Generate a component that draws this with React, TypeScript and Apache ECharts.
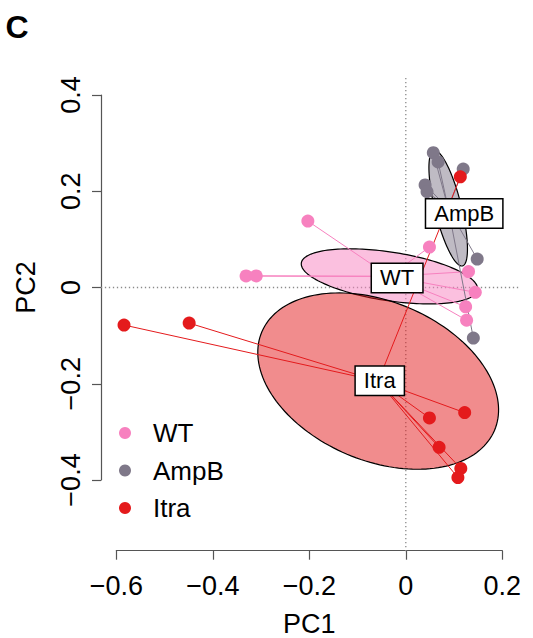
import React, { useEffect, useRef } from 'react';
import * as echarts from 'echarts';

// ---------- data ----------
const groupNames = ['WT', 'AmpB', 'Itra'];
const groupColors = ['#F781BF', '#7F7889', '#E41A1C'];

const wtPC1 = [-0.203, -0.331, -0.31, 0.049, 0.13, 0.144, 0.124, 0.126];
const wtPC2 = [0.138, 0.024, 0.024, 0.084, 0.033, -0.01, -0.04, -0.068];

const ampbPC1 = [0.057, 0.067, 0.119, 0.04, 0.044, 0.148, 0.14];
const ampbPC2 = [0.28, 0.261, 0.246, 0.213, 0.199, 0.059, -0.105];

const itraPC1 = [-0.584, -0.449, 0.049, 0.122, 0.069, 0.114, 0.108, 0.113];
const itraPC2 = [-0.078, -0.074, -0.271, -0.26, -0.332, -0.376, -0.395, 0.23];

// positions of the group labels (PC1, PC2)
const labelPC1 = [-0.018, 0.121, -0.054];
const labelPC2 = [0.02, 0.154, -0.194];

const xTicks = [-0.6, -0.4, -0.2, 0, 0.2];
const yTicks = [-0.4, -0.2, 0, 0.2, 0.4];

// extent of the plotting region (data units) for the dotted zero lines
const frameX = [-0.632, 0.233];
const frameY = [-0.548, 0.436];

const groupPC1 = [wtPC1, ampbPC1, itraPC1];
const groupPC2 = [wtPC2, ampbPC2, itraPC2];

// ---------- styles ----------
const FONT = '"Liberation Sans", Arimo, Arial, Helvetica, sans-serif';
const AXIS = '#555555';
const ELLIPSE_SCALE = 0.93;

function hexToRgba(hex: string, a: number) {
  const h = hex.replace('#', '');
  const r = parseInt(h.slice(0, 2), 16);
  const g = parseInt(h.slice(2, 4), 16);
  const b = parseInt(h.slice(4, 6), 16);
  return `rgba(${r},${g},${b},${a})`;
}

function groupStats(xs: number[], ys: number[]) {
  const n = xs.length;
  const mx = xs.reduce((s, v) => s + v, 0) / n;
  const my = ys.reduce((s, v) => s + v, 0) / n;
  let vxx = 0, vyy = 0, vxy = 0;
  for (let i = 0; i < n; i++) {
    vxx += (xs[i] - mx) ** 2;
    vyy += (ys[i] - my) ** 2;
    vxy += (xs[i] - mx) * (ys[i] - my);
  }
  return { mx, my, vxx: vxx / n, vyy: vyy / n, vxy: vxy / n };
}

const fmt = (v: number) => {
  if (Math.abs(v) < 1e-9) return '0';
  const s = Math.abs(v).toFixed(1);
  return v < 0 ? '\u2212' + s : s;
};

export default function App() {
  const ref = useRef<HTMLDivElement>(null);

  useEffect(() => {
    if (!ref.current) return;
    const chart = echarts.init(ref.current, null, { renderer: 'svg' });

    const st = groupNames.map((_, g) => groupStats(groupPC1[g], groupPC2[g]));

    const spiderData: number[][] = [];
    groupNames.forEach((_, g) => {
      groupPC1[g].forEach((x, i) => {
        spiderData.push([x, groupPC2[g][i], st[g].mx, st[g].my, g]);
      });
    });

    const refLineData = [
      [frameX[0], 0, frameX[1], 0],
      [0, frameY[0], 0, frameY[1]],
    ];

    const labelData = groupNames.map((n, g) => [labelPC1[g], labelPC2[g], g]);

    const option: any = {
      animation: false,
      textStyle: { fontFamily: FONT },
      grid: {
        left: 116.3,
        right: 30.7,
        top: 95,
        bottom: 158,
        containLabel: false,
        outerBoundsMode: 'none',
      },
      graphic: [
        {
          type: 'text',
          left: 5.5,
          top: 11,
          style: { text: 'C', fontSize: 32, fontWeight: 'bold', fill: '#000', fontFamily: FONT },
        },
      ],
      legend: {
        data: groupNames,
        orient: 'vertical',
        left: 119,
        top: 420,
        padding: 0,
        itemWidth: 12,
        itemHeight: 12,
        itemGap: 11.5,
        icon: 'circle',
        selectedMode: false,
        textStyle: { fontSize: 26, lineHeight: 26, color: '#000', fontFamily: FONT, padding: [0, 0, 0, 17] },
      },
      xAxis: {
        type: 'value',
        min: xTicks[0],
        max: xTicks[xTicks.length - 1],
        interval: 0.2,
        offset: 70.7,
        axisLine: { show: true, onZero: false, lineStyle: { color: AXIS, width: 1.2 } },
        axisTick: { show: true, length: 9, lineStyle: { color: AXIS, width: 1.2 } },
        axisLabel: { fontSize: 27, color: '#000', margin: 22, formatter: fmt, fontFamily: FONT },
        splitLine: { show: false },
        name: 'PC1',
        nameLocation: 'middle',
        nameGap: 60,
        nameTextStyle: { fontSize: 27, lineHeight: 27, color: '#000', fontFamily: FONT },
      },
      yAxis: {
        type: 'value',
        min: yTicks[0],
        max: yTicks[yTicks.length - 1],
        interval: 0.2,
        offset: 15.3,
        axisLine: { show: true, onZero: false, lineStyle: { color: AXIS, width: 1.2 } },
        axisTick: { show: true, length: 9, lineStyle: { color: AXIS, width: 1.2 } },
        axisLabel: { fontSize: 27, color: '#000', margin: 17, rotate: 90, formatter: fmt, fontFamily: FONT },
        splitLine: { show: false },
        name: 'PC2',
        nameLocation: 'middle',
        nameGap: 62,
        nameRotate: 90,
        nameTextStyle: { fontSize: 27, color: '#000', fontFamily: FONT },
      },
      series: [
        {
          type: 'custom',
          name: 'zero lines',
          silent: true,
          data: refLineData,
          renderItem: (params: any, api: any) => {
            const d = refLineData[params.dataIndex];
            const p0 = api.coord([d[0], d[1]]);
            const p1 = api.coord([d[2], d[3]]);
            return {
              type: 'line',
              shape: { x1: p0[0], y1: p0[1], x2: p1[0], y2: p1[1] },
              style: { stroke: '#8a8a8a', lineWidth: 1.3, lineDash: [1.3, 2.7] },
            };
          },
        },
        {
          type: 'custom',
          name: 'ellipses',
          silent: true,
          data: st.map((s, g) => [s.mx, s.my, g]),
          renderItem: (params: any, api: any) => {
            const g = params.dataIndex;
            const s = st[g];
            const del = Math.sqrt((s.vxx - s.vyy) ** 2 + 4 * s.vxy ** 2);
            const l1 = (s.vxx + s.vyy + del) / 2;
            const l2 = Math.max(s.vxx + s.vyy - l1, 0);
            const a = ELLIPSE_SCALE * Math.sqrt(l1);
            const b = ELLIPSE_SCALE * Math.sqrt(l2);
            const th = 0.5 * Math.atan2(2 * s.vxy, s.vxx - s.vyy);
            const pts: number[][] = [];
            const N = 160;
            for (let k = 0; k < N; k++) {
              const t = (2 * Math.PI * k) / N;
              const ex = s.mx + a * Math.cos(th) * Math.cos(t) - b * Math.sin(th) * Math.sin(t);
              const ey = s.my + a * Math.sin(th) * Math.cos(t) + b * Math.cos(th) * Math.sin(t);
              pts.push(api.coord([ex, ey]));
            }
            return {
              type: 'polygon',
              shape: { points: pts },
              style: { fill: hexToRgba(groupColors[g], 0.5), stroke: '#000', lineWidth: 1.2 },
            };
          },
        },
        {
          type: 'custom',
          name: 'spiders',
          silent: true,
          data: spiderData,
          renderItem: (params: any, api: any) => {
            const d = spiderData[params.dataIndex];
            const p0 = api.coord([d[2], d[3]]);
            const p1 = api.coord([d[0], d[1]]);
            return {
              type: 'line',
              shape: { x1: p0[0], y1: p0[1], x2: p1[0], y2: p1[1] },
              style: { stroke: groupColors[d[4]], lineWidth: 1 },
            };
          },
        },
        ...groupNames.map((name, g) => ({
          type: 'scatter',
          name,
          clip: false,
          symbol: 'circle',
          symbolSize: 13,
          itemStyle: { color: groupColors[g], opacity: 1 },
          emphasis: { disabled: true },
          data: groupPC1[g].map((x, i) => [x, groupPC2[g][i]]),
        })),
        {
          type: 'custom',
          name: 'labels',
          silent: true,
          data: labelData,
          z: 5,
          renderItem: (params: any, api: any) => {
            const d = labelData[params.dataIndex];
            const p = api.coord([d[0], d[1]]);
            return {
              type: 'text',
              x: p[0],
              y: p[1],
              style: {
                text: groupNames[d[2]],
                fill: '#000',
                fontSize: 22,
                lineHeight: 22,
                fontFamily: FONT,
                align: 'center',
                verticalAlign: 'middle',
                backgroundColor: '#fff',
                borderColor: '#000',
                borderWidth: 1.5,
                padding: [3, 8],
              },
            };
          },
        },
      ],
    };

    chart.setOption(option);
    return () => chart.dispose();
  }, []);

  return (
    <div
      ref={ref}
      style={{ position: 'absolute', left: 0, top: 0, width: 533, height: 638 }}
    />
  );
}
